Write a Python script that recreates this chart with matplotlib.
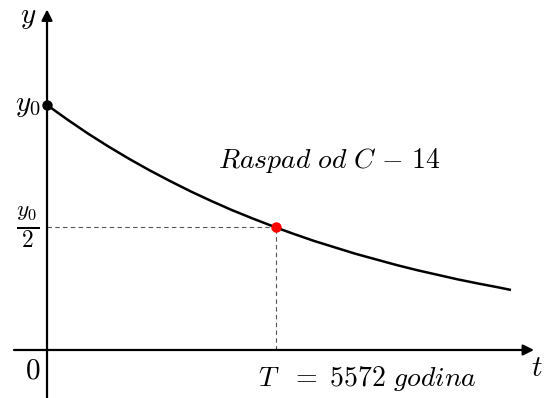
import matplotlib
matplotlib.use("Agg")
import matplotlib.pyplot as plt

plt.rcParams['mathtext.fontset'] = 'cm'

# curve (t in years, y in units of y0)
t_vals = [0, 500, 1000, 1500, 2000, 2500, 3000, 3500, 4000, 4500, 5000, 5572,
          6000, 6500, 7000, 7500, 8000, 8500, 9000, 9500, 10000, 10500, 11000, 11260]
y_vals = [1.0, 0.940, 0.883, 0.830, 0.780, 0.733, 0.689, 0.647, 0.608, 0.571, 0.537, 0.5,
          0.474, 0.445, 0.419, 0.393, 0.370, 0.347, 0.326, 0.307, 0.288, 0.271, 0.255, 0.246]
T_half = 5572
y0 = 1.0

fig = plt.figure(figsize=(5.44, 3.98), dpi=100)
ax = fig.add_axes([0, 0, 1, 1])
ax.set_xlim(-1144, 12093)
ax.set_ylim(-0.196, 1.4286)
ax.axis('off')

# axes with arrows
ax.annotate('', xy=(11850, 0), xytext=(-803, 0),
            arrowprops=dict(arrowstyle='-|>', color='black', lw=1.6,
                            mutation_scale=16, shrinkA=0, shrinkB=0))
ax.annotate('', xy=(0, 1.39), xytext=(0, -0.2),
            arrowprops=dict(arrowstyle='-|>', color='black', lw=1.6,
                            mutation_scale=16, shrinkA=0, shrinkB=0))

# dashed guides
ax.plot([0, T_half], [y0 / 2, y0 / 2], ls='--', color='#555555', lw=0.8, dashes=(4, 3))
ax.plot([T_half, T_half], [0, y0 / 2], ls='--', color='#555555', lw=0.8, dashes=(4, 3))

ax.plot(t_vals, y_vals, color='black', lw=1.8)
ax.plot([0], [y0], 'o', color='black', ms=6.5, zorder=5)
ax.plot([T_half], [y0 / 2], 'o', color='red', ms=6.5, zorder=5)

fs = 21
ax.text(-450, 1.36, r'$y$', fontsize=fs, ha='center', va='center')
ax.text(-150, 1.0, r'$y_0$', fontsize=fs, ha='right', va='center')
ax.text(-200, 0.5, r'$\frac{y_0}{2}$', fontsize=fs + 3, ha='right', va='center')
ax.text(-340, -0.085, r'$0$', fontsize=fs, ha='center', va='center')
ax.text(11930, -0.075, r'$t$', fontsize=fs, ha='center', va='center')
ax.text(7800, -0.118, r'$T\ \ {=}\ 5572\ godina$', fontsize=20, ha='center', va='center')
ax.text(6860, 0.775, r'$Raspad\ od\ C\ {-}\ 14$', fontsize=20, ha='center', va='center')

fig.savefig('out.png', dpi=100)
